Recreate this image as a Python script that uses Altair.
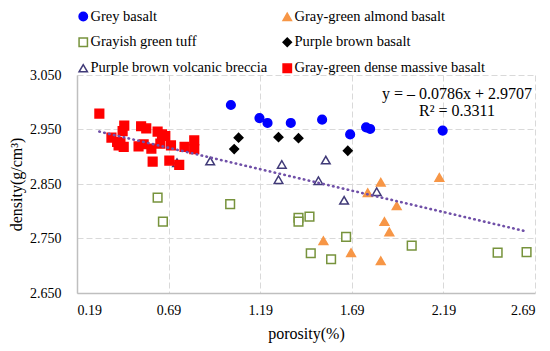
import altair as alt
import pandas as pd

names = ["Grey basalt", "Gray-green almond basalt", "Grayish green tuff",
         "Purple brown basalt", "Purple brown volcanic breccia",
         "Gray-green dense massive basalt"]
shapes = ["circle", "triangle-up", "square", "diamond", "triangle-up", "square"]
fills = ["#0000FF", "#F79646", "white", "#000000", "white", "#FF0000"]
strokes = ["#0000FF", "#F79646", "#77933C", "#000000", "#403A78", "#FF0000"]

grey_x = [1.030, 1.186, 1.230, 1.357, 1.528, 1.681, 1.768, 1.790, 2.186]
grey_y = [2.995, 2.971, 2.962, 2.962, 2.968, 2.941, 2.954, 2.951, 2.948]

almond_x = [1.535, 1.686, 1.777, 1.848, 1.848, 1.868, 1.895, 1.935, 2.168]
almond_y = [2.746, 2.724, 2.834, 2.853, 2.709, 2.781, 2.762, 2.810, 2.862]

tuff_x = [0.630, 0.659, 1.026, 1.399, 1.399, 1.459, 1.466, 1.577, 1.659, 2.017, 2.486, 2.644]
tuff_y = [2.825, 2.781, 2.813, 2.788, 2.781, 2.790, 2.723, 2.712, 2.753, 2.737, 2.724, 2.725]

pbb_x = [1.048, 1.072, 1.290, 1.399, 1.668]
pbb_y = [2.914, 2.935, 2.936, 2.934, 2.911]

breccia_x = [0.736, 0.917, 1.290, 1.308, 1.508, 1.548, 1.648, 1.826]
breccia_y = [2.889, 2.892, 2.858, 2.886, 2.856, 2.894, 2.820, 2.836]

dense_x = [0.312, 0.448, 0.439, 0.540, 0.568, 0.630, 0.654, 0.672, 0.378, 0.409,
           0.427, 0.445, 0.417, 0.526, 0.554, 0.596, 0.645, 0.703, 0.777, 0.830,
           0.830, 0.603, 0.694, 0.748]
dense_y = [2.979, 2.957, 2.947, 2.956, 2.952, 2.946, 2.941, 2.938, 2.935, 2.927,
           2.925, 2.918, 2.921, 2.919, 2.923, 2.915, 2.924, 2.921, 2.918, 2.930,
           2.914, 2.891, 2.893, 2.885]

slope = -0.0786
intercept = 2.9707
trend_x = [0.312, 2.644]

x_ticks = [0.19, 0.69, 1.19, 1.69, 2.19, 2.69]
y_ticks = [2.65, 2.70, 2.75, 2.80, 2.85, 2.90, 2.95, 3.00, 3.05]

eq_lines = ["y = \u2013 0.0786x + 2.9707", "R\u00b2 = 0.3311"]
eq_x = [2.264, 2.264]
eq_y = [3.0155, 2.9845]

# legend fills column by column: col 1 then col 2
legend_order = [names[0], names[2], names[4], names[1], names[3], names[5]]

series = [(grey_x, grey_y), (almond_x, almond_y), (tuff_x, tuff_y),
          (pbb_x, pbb_y), (breccia_x, breccia_y), (dense_x, dense_y)]
rows = []
for name, (xs_, ys_) in zip(names, series):
    for xv, yv in zip(xs_, ys_):
        rows.append({"type": name, "porosity": xv, "density": yv})
df = pd.DataFrame(rows)

trend_df = pd.DataFrame({"porosity": trend_x,
                         "density": [slope * v + intercept for v in trend_x]})
eq_df = pd.DataFrame({"porosity": eq_x, "density": eq_y, "label": eq_lines})

FONT = "Liberation Serif"

xs = alt.Scale(domain=[0.19, 2.69], nice=False, zero=False)
ys = alt.Scale(domain=[2.65, 3.05], nice=False, zero=False)

order_idx = [names.index(n) for n in legend_order]
shape_r = [shapes[i] for i in order_idx]
fill_r = [fills[i] for i in order_idx]
stroke_r = [strokes[i] for i in order_idx]

legend = alt.Legend(
    orient="none", legendX=-1, legendY=-66, columns=2, title=None,
    labelFont=FONT, labelFontSize=14.5, labelColor="black", labelLimit=400,
    symbolSize=70, symbolStrokeWidth=1.5, rowPadding=10, columnPadding=12,
    labelOffset=0, padding=0,
)

points = alt.Chart(df).mark_point(size=75, strokeWidth=1.5, opacity=1).encode(
    x=alt.X("porosity:Q", scale=xs,
            axis=alt.Axis(values=x_ticks, format=".2f", title="porosity(%)",
                          titlePadding=8, labelPadding=10)),
    y=alt.Y("density:Q", scale=ys,
            axis=alt.Axis(values=y_ticks, format=".3f", title="density(g/cm\u00b3)",
                          titlePadding=5, labelPadding=16)),
    shape=alt.Shape("type:N", scale=alt.Scale(domain=legend_order, range=shape_r), legend=legend),
    fill=alt.Fill("type:N", scale=alt.Scale(domain=legend_order, range=fill_r), legend=legend),
    stroke=alt.Stroke("type:N", scale=alt.Scale(domain=legend_order, range=stroke_r), legend=legend),
)

trend = alt.Chart(trend_df).mark_line(
    color="#7050A8", strokeWidth=2.6, strokeDash=[0.5, 4.5], strokeCap="round"
).encode(x=alt.X("porosity:Q", scale=xs), y=alt.Y("density:Q", scale=ys))

eq = alt.Chart(eq_df).mark_text(font=FONT, fontSize=16, align="center", color="black").encode(
    x=alt.X("porosity:Q", scale=xs), y=alt.Y("density:Q", scale=ys), text="label:N"
)

chart = alt.layer(points, trend, eq).properties(
    width=458, height=218,
    autosize=alt.AutoSizeParams(type="none"),
    padding={"left": 69, "top": 67, "right": 5, "bottom": 57},
).configure_view(stroke=None).configure_axis(
    grid=True, gridColor="#d9d9d9", gridDash=[6, 3], gridWidth=1,
    domainColor="#bfbfbf", domainWidth=1.5, ticks=False,
    labelFont=FONT, labelFontSize=14, labelColor="black",
    titleFont=FONT, titleFontSize=16, titleFontWeight="normal", titleColor="black",
).configure_legend(
    labelFont=FONT, labelFontSize=14.5, labelColor="black", labelLimit=400,
)

chart.save("out.html", embed_options={"renderer": "svg", "actions": False})
